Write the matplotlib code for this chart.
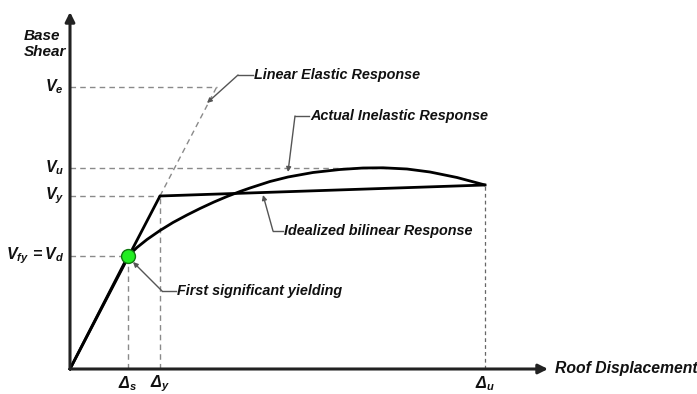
import matplotlib
matplotlib.use('Agg')
import matplotlib.pyplot as plt

plt.rcParams['font.family'] = ['Liberation Sans', 'DejaVu Sans']
plt.rcParams['mathtext.fontset'] = 'custom'
plt.rcParams['mathtext.rm'] = 'Liberation Sans:bold:italic'
plt.rcParams['mathtext.it'] = 'Liberation Sans:bold:italic'
plt.rcParams['mathtext.bf'] = 'Liberation Sans:bold:italic'

# Characteristic displacements and shears (schematic units)
delta_s, delta_y, delta_u = 58, 90, 415
v_d, v_y, v_u, v_e = 113, 173, 201, 282

# Idealized bilinear response
bilinear_x = [0, delta_y, delta_u]
bilinear_y = [0, v_y, 184]

# Actual inelastic response (from first significant yielding onwards)
actual_x = [58, 67, 77, 90, 103, 117, 130, 144, 157, 170, 180, 200, 218,
            243, 270, 293, 313, 337, 360, 387, 415]
actual_y = [113, 121.5, 129.5, 138.5, 146.5, 154, 160.5, 167, 172.5, 177.5,
            181, 187.5, 192, 196.5, 199.5, 201, 201.2, 200, 197, 191.5, 184]

tick_labels_y = [r'$V_e$', r'$V_u$', r'$V_y$', r'$V_{fy}\ \!=V_d$']
tick_values_y = [v_e, v_u, v_y, v_d]
tick_labels_x = [r'$\Delta_s$', r'$\Delta_y$', r'$\Delta_u$']
tick_values_x = [delta_s, delta_y, delta_u]

text_kw = dict(fontsize=10.4, fontweight='bold', fontstyle='italic', color='#111111')
dash_kw = dict(color='#8a8a8a', lw=1, dashes=(4, 3))
leader_color = '#555555'

fig = plt.figure(figsize=(6.97, 3.94), dpi=100)
ax = fig.add_axes([0, 0, 1, 1])
ax.set_xlim(-70, 627)
ax.set_ylim(-25, 369)
ax.axis('off')

# Reference dashes
elastic_top = v_e * delta_y / v_y
ax.plot([0, elastic_top], [v_e, v_e], **dash_kw)
ax.plot([delta_y, elastic_top], [v_y, v_e], **dash_kw)
ax.plot([0, 317], [v_u, v_u], **dash_kw)
ax.plot([0, delta_y], [v_y, v_y], **dash_kw)
ax.plot([0, delta_s], [v_d, v_d], **dash_kw)
ax.plot([delta_s, delta_s], [0, v_d], **dash_kw)
ax.plot([delta_y, delta_y], [0, v_y], **dash_kw)
ax.plot([delta_u, delta_u], [0, 184], color='#666666', lw=0.9, dashes=(3, 2.5))

# Axes with arrows
arrow_kw = dict(arrowstyle='-|>', color='#222222', lw=2.2, mutation_scale=14,
                shrinkA=0, shrinkB=0)
ax.annotate('', xy=(478, 0), xytext=(0, 0), arrowprops=arrow_kw)
ax.annotate('', xy=(0, 357), xytext=(0, 0), arrowprops=arrow_kw)

# Response curves
ax.plot(bilinear_x, bilinear_y, color='black', lw=2, solid_joinstyle='miter')
ax.plot([0, delta_s], [0, v_d], color='black', lw=2)
ax.plot(actual_x, actual_y, color='black', lw=2, solid_capstyle='round',
        solid_joinstyle='round')
ax.plot([delta_s], [v_d], 'o', ms=10, mfc='#22ee22', mec='#117711', mew=1)

# Axis labels
ax.text(-46, 325, 'Base\nShear', ha='left', va='center', linespacing=1.25,
        fontsize=11, fontweight='bold', fontstyle='italic', color='#111111')
ax.text(485, 0, 'Roof Displacement', ha='left', va='center',
        fontsize=11.3, fontweight='bold', fontstyle='italic', color='#111111')
for lab, val in zip(tick_labels_y, tick_values_y):
    ax.text(-6, val, lab, ha='right', va='center', fontsize=11.5, color='#111111')
for lab, val in zip(tick_labels_x, tick_values_x):
    ax.text(val, -15, lab, ha='center', va='center', fontsize=11.5, color='#111111')

# Leader annotations: (text, arrow tip, elbow, end of horizontal run)
callouts = [
    ('Linear Elastic Response', (137, 266), (168, 294), (183, 294)),
    ('Actual Inelastic Response', (218, 197), (225, 253), (239, 253)),
    ('Idealized bilinear Response', (193, 174), (203, 138), (213, 138)),
    ('First significant yielding', (63, 107), (92, 78), (106, 78)),
]
for label, tip, elbow, end in callouts:
    ax.plot([elbow[0], end[0]], [elbow[1], end[1]], color=leader_color, lw=1)
    ax.annotate('', xy=tip, xytext=elbow,
                arrowprops=dict(arrowstyle='-|>', color=leader_color, lw=1,
                                mutation_scale=7, shrinkA=0, shrinkB=0))
    ax.text(end[0] + 1, end[1], label, ha='left', va='center', **text_kw)

fig.savefig('out.png', dpi=100)
plt.close(fig)
